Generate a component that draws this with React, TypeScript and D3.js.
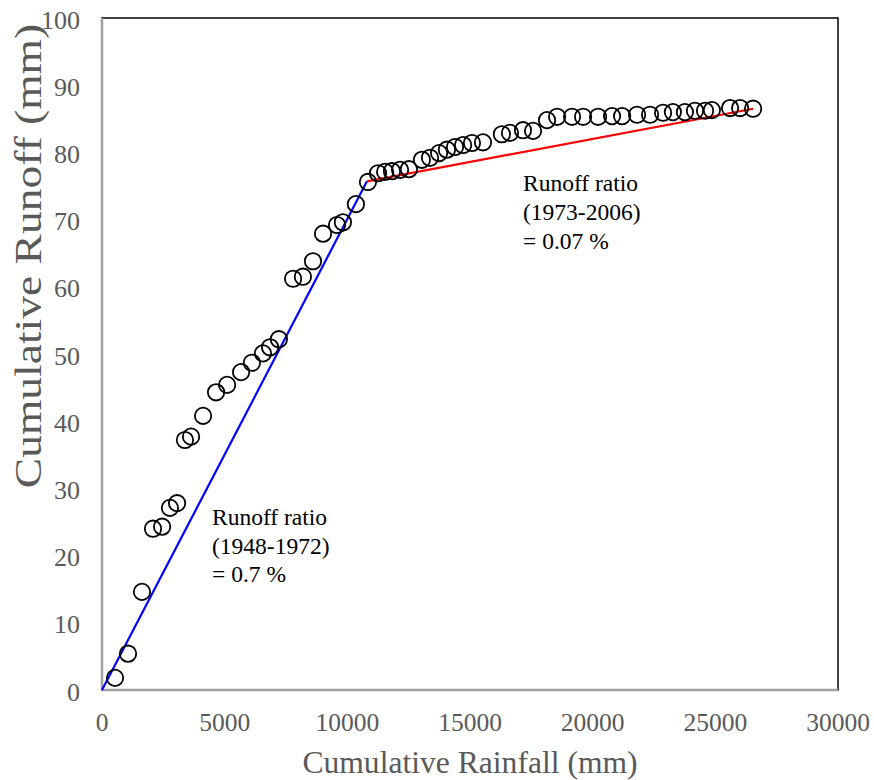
import React from "react";
import * as d3 from "d3";

// Cumulative rainfall (mm) vs cumulative runoff (mm), one point per year
const rainfall = [
  530, 1060, 1630, 2080, 2450, 2770, 3060, 3380, 3630, 4120, 4650, 5100, 5670, 6110, 6560, 6850,
  7210, 7790, 8190, 8600, 9010, 9580, 9820, 10350, 10840, 11250, 11540, 11820, 12150, 12510,
  13040, 13370, 13740, 14060, 14390, 14720, 15080, 15530, 16300, 16630, 17160, 17570, 18140,
  18550, 19160, 19610, 20220, 20790, 21200, 21810, 22340, 22870, 23270, 23760, 24170, 24580,
  24860, 25600, 26010, 26540,
];
const runoff = [
  1.8, 5.4, 14.6, 24.0, 24.3, 27.1, 27.8, 37.2, 37.7, 40.8, 44.3, 45.4, 47.3, 48.7, 50.1, 51.0,
  52.2, 61.2, 61.5, 63.8, 67.9, 69.2, 69.6, 72.3, 75.6, 76.9, 77.1, 77.2, 77.4, 77.5, 78.9, 79.2,
  79.9, 80.4, 80.8, 81.1, 81.4, 81.5, 82.7, 82.9, 83.3, 83.2, 84.8, 85.3, 85.3, 85.3, 85.3, 85.4,
  85.4, 85.6, 85.6, 85.9, 86.0, 86.0, 86.2, 86.2, 86.3, 86.6, 86.6, 86.5,
];

// Trend segments for the two periods
const trendEarlyX = [0, 10800];
const trendEarlyY = [0, 75.7];
const trendLateX = [10800, 26540];
const trendLateY = [75.7, 86.5];

const xTicks = [0, 5000, 10000, 15000, 20000, 25000, 30000];
const yTicks = [0, 10, 20, 30, 40, 50, 60, 70, 80, 90, 100];

const noteEarly = ["Runoff ratio", "(1948-1972)", "= 0.7 %"];
const noteLate = ["Runoff ratio", "(1973-2006)", "= 0.07 %"];

const W = 874;
const H = 780;
const M = { left: 102, right: 838, top: 18, bottom: 690 };
const FONT = "Liberation Serif, DejaVu Serif, serif";
const AXIS_GRAY = "#595959";

export default function App() {
  const x = d3.scaleLinear().domain([0, 30000]).range([M.left, M.right]);
  const y = d3.scaleLinear().domain([0, 100]).range([M.bottom, M.top]);
  const line = d3
    .line<[number, number]>()
    .x((d) => x(d[0]))
    .y((d) => y(d[1]));

  const early = trendEarlyX.map((v, i) => [v, trendEarlyY[i]] as [number, number]);
  const late = trendLateX.map((v, i) => [v, trendLateY[i]] as [number, number]);
  const ts = { fontFamily: FONT };

  return (
    <svg
      width={W}
      height={H}
      style={{ position: "absolute", left: 0, top: 0, background: "#fff" }}
    >
      {/* plot frame */}
      <rect
        x={M.left}
        y={M.top}
        width={M.right - M.left}
        height={M.bottom - M.top}
        fill="none"
        stroke="#000"
        strokeWidth={1.5}
      />
      <line x1={M.left} x2={M.left} y1={M.top} y2={M.bottom} stroke="#a0a0a0" strokeWidth={2.5} />
      <line x1={M.left} x2={M.right} y1={M.bottom} y2={M.bottom} stroke="#a0a0a0" strokeWidth={2.5} />

      {/* tick labels */}
      {yTicks.map((t) => (
        <text
          key={"y" + t}
          x={80}
          y={y(t) + 1.5}
          dy="0.35em"
          textAnchor="end"
          fontSize={26}
          fill={AXIS_GRAY}
          style={ts}
        >
          {t}
        </text>
      ))}
      {xTicks.map((t) => (
        <text
          key={"x" + t}
          x={x(t)}
          y={722}
          dy="0.35em"
          textAnchor="middle"
          fontSize={25.5}
          fill={AXIS_GRAY}
          style={ts}
        >
          {t}
        </text>
      ))}

      {/* axis titles */}
      <text x={470} y={762} dy="0.35em" textAnchor="middle" fontSize={31.6} fill={AXIS_GRAY} style={ts}>
        Cumulative Rainfall (mm)
      </text>
      <text
        transform={`translate(28,256) rotate(-90) scale(1.23,1)`}
        dy="0.35em"
        textAnchor="middle"
        fontSize={37}
        fill={AXIS_GRAY}
        style={ts}
      >
        Cumulative Runoff (mm)
      </text>

      {/* trend lines */}
      <path d={line(early) || ""} fill="none" stroke="#0000ff" strokeWidth={2.2} />
      <path d={line(late) || ""} fill="none" stroke="#ff0000" strokeWidth={2.2} />

      {/* observations */}
      {rainfall.map((r, i) => (
        <circle
          key={i}
          cx={x(r)}
          cy={y(runoff[i])}
          r={8.2}
          fill="none"
          stroke="#000"
          strokeWidth={1.8}
        />
      ))}

      {/* annotations */}
      {noteEarly.map((s, i) => (
        <text key={"ne" + i} x={212} y={517 + i * 28.5} dy="0.35em" fontSize={23.5} fill="#000" style={ts}>
          {s}
        </text>
      ))}
      {noteLate.map((s, i) => (
        <text key={"nl" + i} x={523} y={183 + i * 29} dy="0.35em" fontSize={23.5} fill="#000" style={ts}>
          {s}
        </text>
      ))}
    </svg>
  );
}
